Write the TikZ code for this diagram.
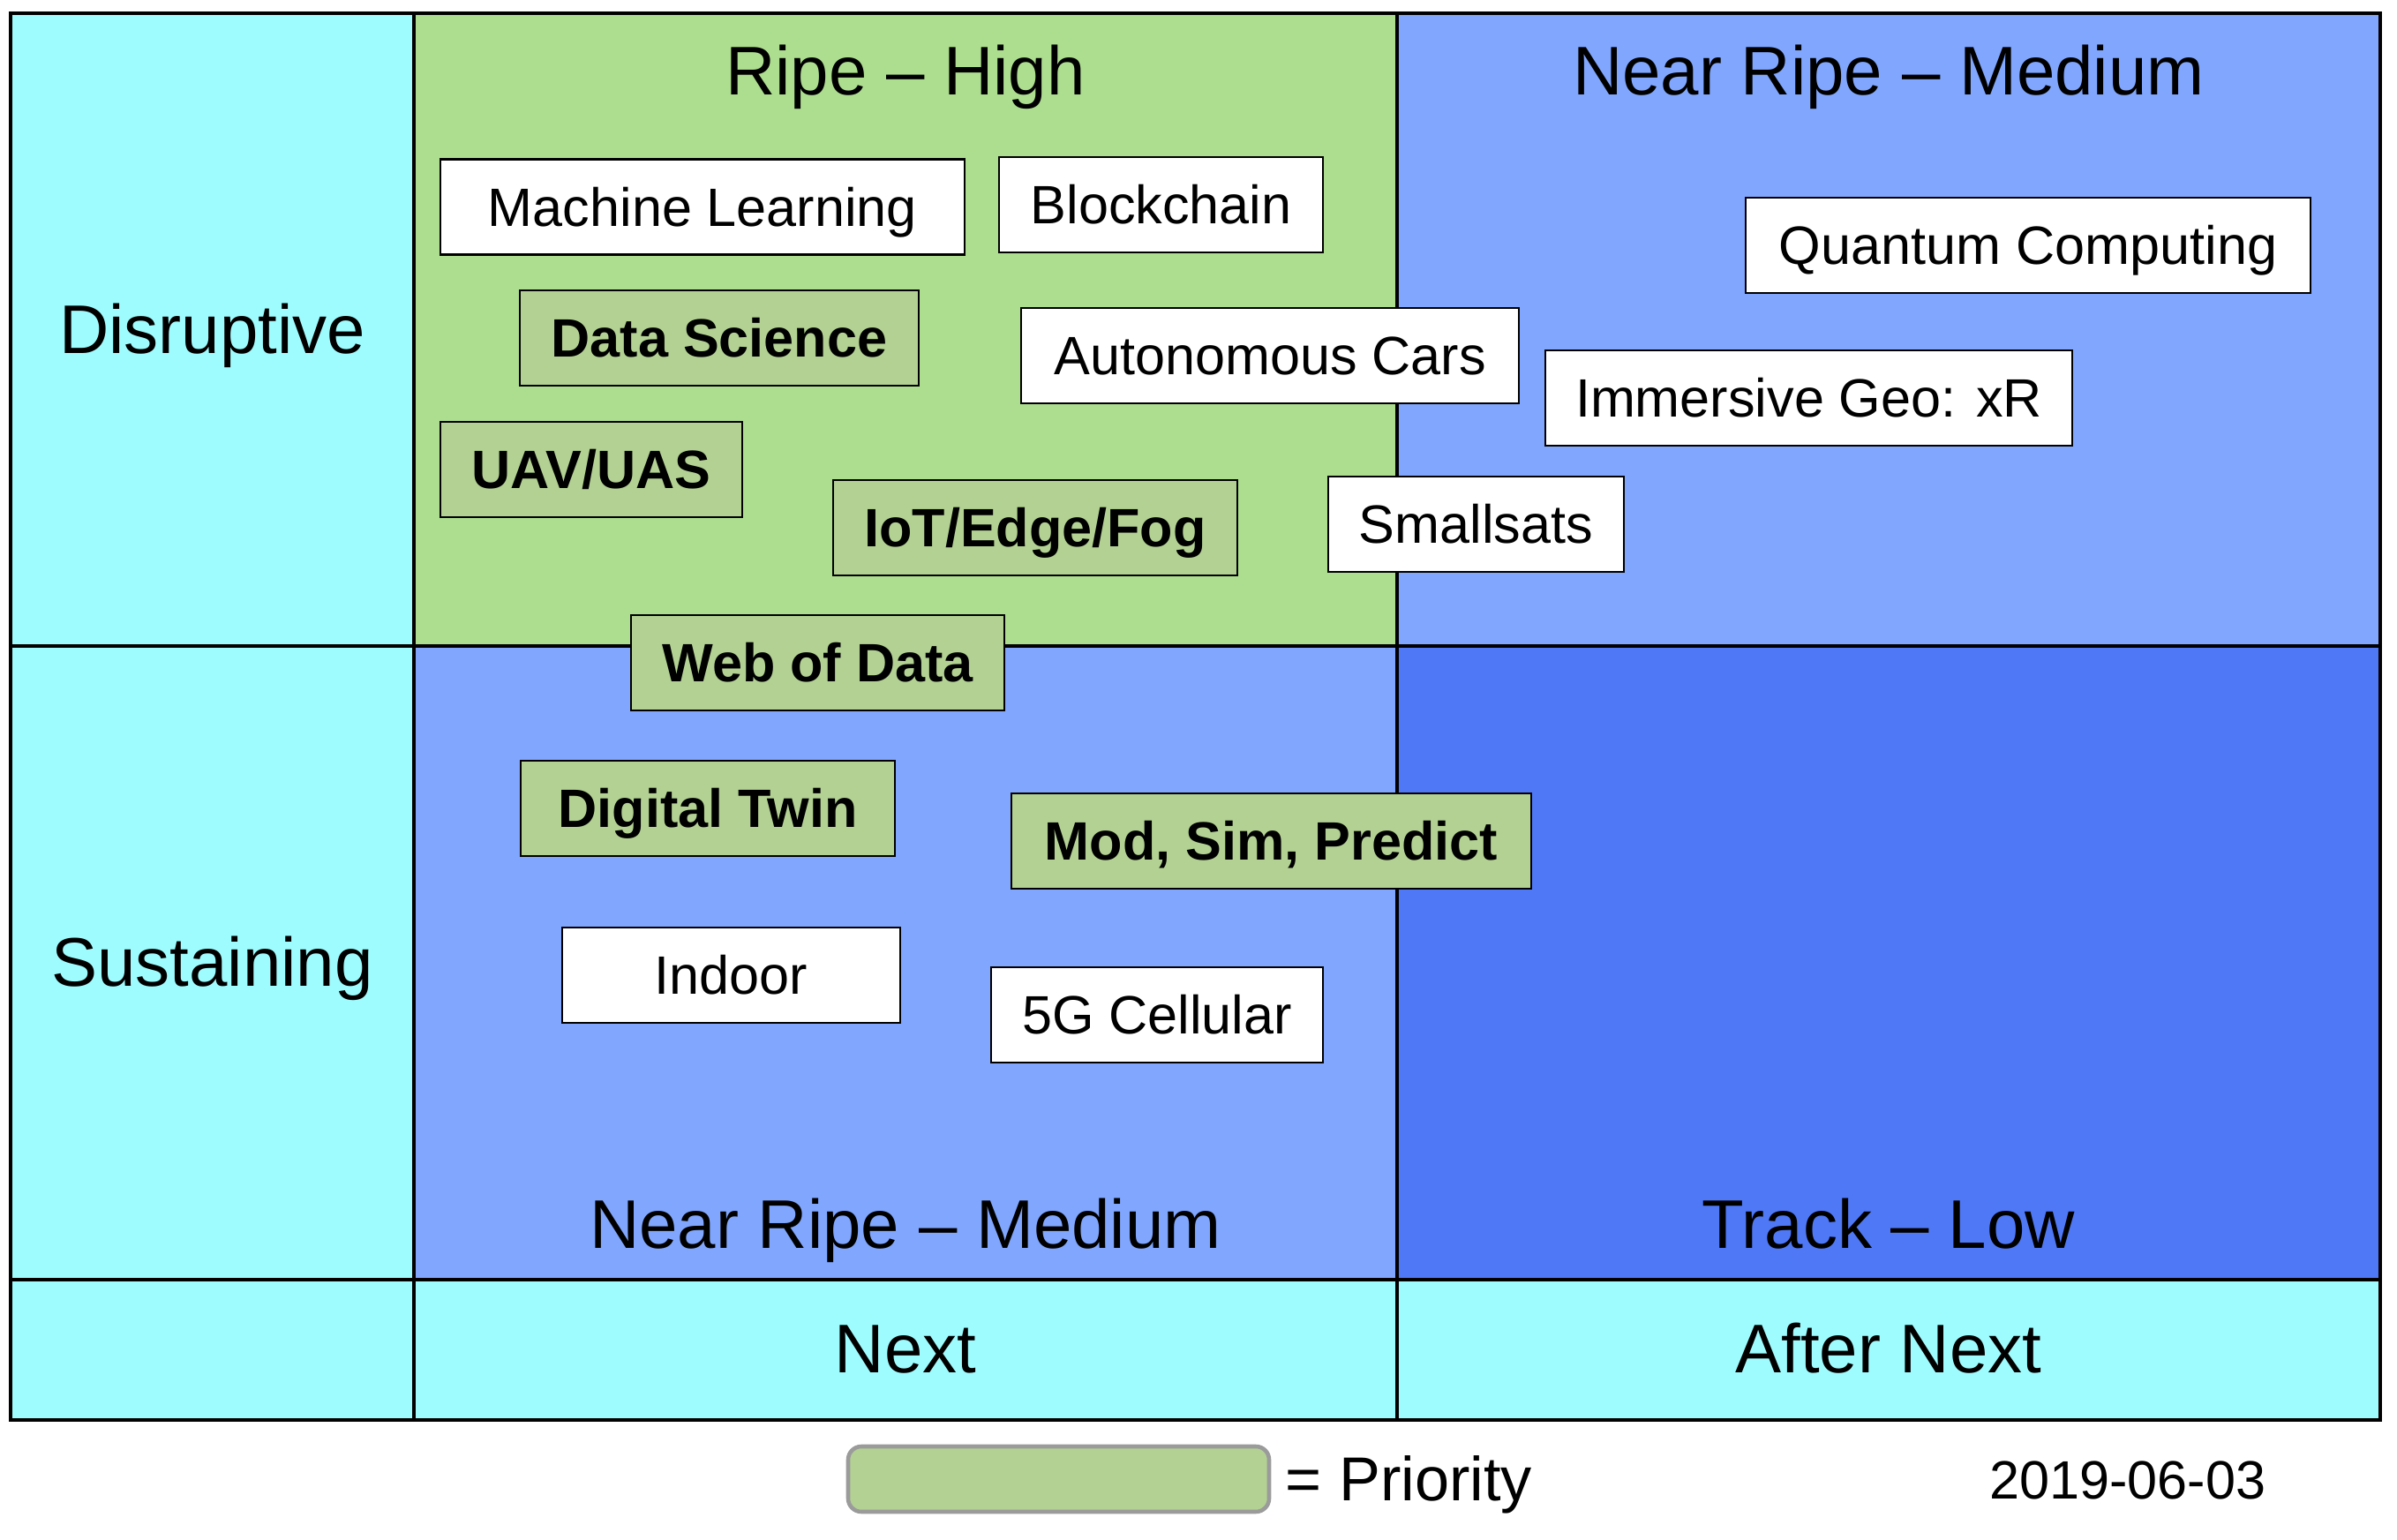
\documentclass[tikz,border=0pt]{standalone}
\usepackage{fontspec}
\setmainfont{Liberation Sans}
\definecolor{cyanc}{RGB}{159,252,254}
\definecolor{greenq}{RGB}{173,222,143}
\definecolor{prio}{RGB}{179,209,147}
\definecolor{lblue}{RGB}{128,166,254}
\definecolor{dblue}{RGB}{79,120,247}
\definecolor{lgray}{RGB}{155,155,155}
\tikzset{
  grid/.style={line width=1pt, draw=black},
  title/.style={anchor=base, inner sep=0pt, font=\fontsize{22.2pt}{26pt}\selectfont},
  item/.style={draw=black, line width=0.8pt, inner sep=0pt, text height=4.4mm, text depth=0pt,
     minimum height=10.8mm, font=\fontsize{17.4pt}{20pt}\selectfont},
  wbox/.style={item, fill=white},
  pbox/.style={item, fill=prio, font=\fontsize{17.4pt}{20pt}\selectfont\bfseries},
}
\begin{document}
\begin{tikzpicture}[x=1mm,y=-1mm]
\useasboundingbox (0,0) rectangle (271.6,174.5);
% cells
\fill[cyanc] (1.2,1.5) rectangle (46.9,160.9);
\fill[cyanc] (46.9,145.0) rectangle (269.7,160.9);
\fill[greenq] (46.9,1.5) rectangle (158.3,73.2);
\fill[lblue] (158.3,1.5) rectangle (269.7,73.2);
\fill[lblue] (46.9,73.2) rectangle (158.3,145.0);
\fill[dblue] (158.3,73.2) rectangle (269.7,145.0);
% grid lines
\draw[grid] (1.2,1.5) rectangle (269.7,160.9);
\draw[grid] (46.9,1.5) -- (46.9,160.9);
\draw[grid] (158.3,1.5) -- (158.3,160.9);
\draw[grid] (1.2,73.2) -- (269.7,73.2);
\draw[grid] (1.2,145.0) -- (269.7,145.0);
% titles
\node[title] (t1) at (102.6,10.8) {Ripe – High};
\node[title] (t2) at (214.0,10.8) {Near Ripe – Medium};
\node[title] (t3) at (102.6,141.5) {Near Ripe – Medium};
\node[title] (t4) at (214.0,141.5) {Track – Low};
\node[title] (t5) at (102.6,155.6) {Next};
\node[title] (t6) at (214.0,155.6) {After Next};
\node[title] (r1) at (24.05,40.05) {Disruptive};
\node[title] (r2) at (24.05,111.8) {Sustaining};
% items
\node[wbox, minimum width=59.4mm] (ml) at (79.6,23.45) {Machine Learning};
\node[wbox, minimum width=36.7mm] (bc) at (131.55,23.2) {Blockchain};
\node[pbox, minimum width=45.2mm] (ds) at (81.5,38.3) {Data Science};
\node[wbox, minimum width=56.4mm] (ac) at (143.9,40.3) {Autonomous Cars};
\node[pbox, minimum width=34.2mm] (uav) at (67.0,53.2) {UAV/UAS};
\node[pbox, minimum width=45.8mm] (iot) at (117.3,59.8) {IoT/Edge/Fog};
\node[wbox, minimum width=33.5mm] (ss) at (167.25,59.4) {Smallsats};
\node[pbox, minimum width=42.3mm] (wod) at (92.65,75.1) {Web of Data};
\node[wbox, minimum width=64.0mm] (qc) at (229.8,27.8) {Quantum Computing};
\node[wbox, minimum width=59.7mm] (ig) at (204.95,45.1) {Immersive Geo: xR};
\node[pbox, minimum width=42.4mm] (dt) at (80.2,91.6) {Digital Twin};
\node[pbox, minimum width=58.9mm] (msp) at (144.05,95.3) {Mod, Sim, Predict};
\node[wbox, minimum width=38.3mm] (ind) at (82.85,110.5) {Indoor};
\node[wbox, minimum width=37.6mm] (g5) at (131.1,115.0) {5G Cellular};
% legend
\node[draw=lgray, line width=1.3pt, fill=prio, rounded corners=1.5mm, minimum width=47.7mm, minimum height=7.4mm, inner sep=0pt] (leg) at (119.95,167.6) {};
\node[anchor=base west, inner sep=0pt, font=\fontsize{20pt}{24pt}\selectfont] (legt) at (145.6,170.0) {= Priority};
\node[anchor=base east, inner sep=0pt, font=\fontsize{17.4pt}{20pt}\selectfont] (date) at (256.8,169.8) {2019-06-03};
\end{tikzpicture}
\end{document}
